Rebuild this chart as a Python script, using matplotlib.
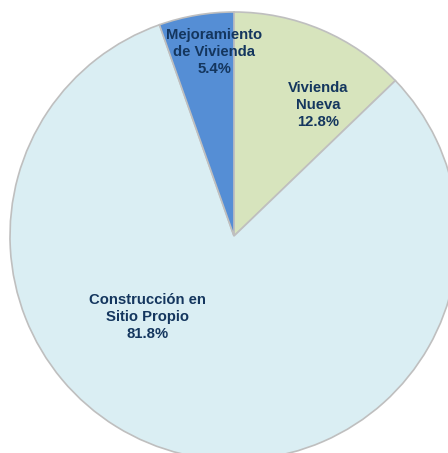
import matplotlib.pyplot as plt

# data
categories = ['Vivienda\nNueva', 'Construcción en\nSitio Propio', 'Mejoramiento\nde Vivienda']
shares = [12.8, 81.8, 5.4]
colors = ['#D7E4BD', '#DAEEF3', '#558ED5']

# label spots (in units of the radius)
label_xy = [(0.375, 0.585), (-0.388, -0.362), (-0.088, 0.820)]

plt.rcParams['font.family'] = ['Liberation Sans', 'DejaVu Sans']

fig = plt.figure(figsize=(4.48, 4.53), dpi=100)
ax = fig.add_axes([0, 0, 1, 1])
ax.pie(shares, colors=colors, startangle=90, counterclock=False,
       wedgeprops=dict(edgecolor='#BFBFBF', linewidth=1.2))

for name, val, (x, y) in zip(categories, shares, label_xy):
    ax.text(x, y, f'{name}\n{val:.1f}%', ha='center', va='center',
            fontsize=10.7, fontweight='bold', color='#14365E', linespacing=1.28)

ax.set_xlim(-234 / 224, (448 - 234) / 224)
ax.set_ylim(-(453 - 236) / 224, 236 / 224)
ax.set_aspect('auto')
ax.axis('off')

fig.savefig('out.png', dpi=100)
